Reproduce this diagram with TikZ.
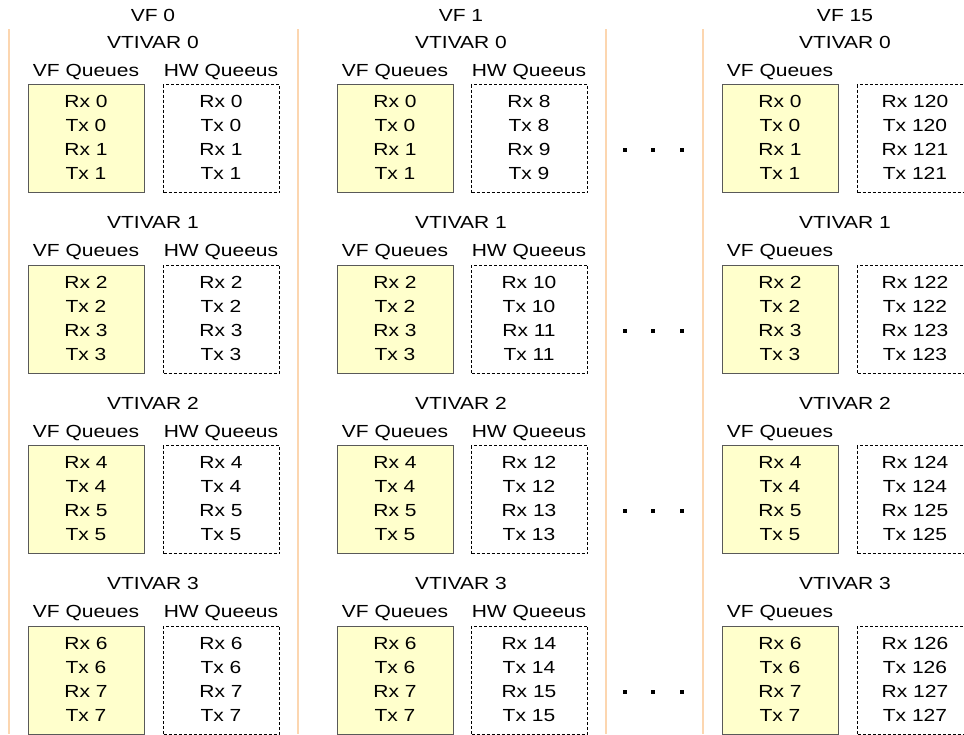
\documentclass[tikz,border=0pt]{standalone}
\usepackage{fontspec}
\setmainfont{Liberation Sans}[FakeStretch=1.2]
\definecolor{yellowfill}{RGB}{255,255,204}
\definecolor{sepcol}{RGB}{252,214,176}
\begin{document}
\begin{tikzpicture}[x=1pt,y=-1pt,
  lbl/.style={inner sep=0pt, anchor=base, font=\fontsize{17.5}{20}\selectfont},
  vfbox/.style={draw=black!65, fill=yellowfill, line width=1pt, minimum width=116pt, minimum height=108pt, inner sep=0pt, anchor=north west},
  hwbox/.style={draw=black, dash pattern=on 3pt off 2pt, line width=1pt, minimum width=116pt, minimum height=108pt, inner sep=0pt, anchor=north west},
  sepline/.style={draw=sepcol, line width=2.5pt},
  qdot/.style={fill=black, minimum size=4pt, inner sep=0pt}]
\useasboundingbox (0,0) rectangle (964,734);
% separator lines
\foreach \i/\x in {0/9,1/298,2/606,3/703} {
  \coordinate (st\i) at (\x,29);
  \coordinate (sb\i) at (\x,734);
  \draw[sepline] (st\i) -- (sb\i);
}
% VF titles
\node[lbl] (vf0) at (153,21) {VF 0};
\node[lbl] (vf1) at (461,21) {VF 1};
\node[lbl] (vf15) at (845,21) {VF 15};
% columns
\foreach \c/\xa/\xb/\xt/\hwbase/\hwl in {0/28/163/153/0/1, 1/337/471/461/8/1, 2/722/857/845/120/0} {
  \foreach \g in {0,...,3} {
    \pgfmathsetmacro\dy{180.5*\g}
    \pgfmathtruncatemacro\qa{2*\g}
    \pgfmathtruncatemacro\qb{2*\g+1}
    \pgfmathtruncatemacro\ha{\hwbase+2*\g}
    \pgfmathtruncatemacro\hb{\hwbase+2*\g+1}
    \node[lbl] (vt\c\g) at (\xt,48+\dy) {VTIVAR \g};
    \node[lbl] (vq\c\g) at (\xa+58,76+\dy) {VF Queues};
    \ifnum\hwl=1 \node[lbl] (hq\c\g) at (\xb+58,76+\dy) {HW Queeus};\fi
    \node[vfbox] (vb\c\g) at (\xa,84+\dy) {};
    \node[hwbox] (hb\c\g) at (\xb,84+\dy) {};
    \node[lbl] (vra\c\g) at (\xa+58,107.5+\dy) {Rx \qa};
    \node[lbl] (vta\c\g) at (\xa+58,131.5+\dy) {Tx \qa};
    \node[lbl] (vrb\c\g) at (\xa+58,155.5+\dy) {Rx \qb};
    \node[lbl] (vtb\c\g) at (\xa+58,179.5+\dy) {Tx \qb};
    \node[lbl] (hra\c\g) at (\xb+58,107.5+\dy) {Rx \ha};
    \node[lbl] (hta\c\g) at (\xb+58,131.5+\dy) {Tx \ha};
    \node[lbl] (hrb\c\g) at (\xb+58,155.5+\dy) {Rx \hb};
    \node[lbl] (htb\c\g) at (\xb+58,179.5+\dy) {Tx \hb};
  }
}
% ellipsis dots
\foreach \g in {0,...,3} {
  \pgfmathsetmacro\dy{180.5*\g}
  \node[qdot] (da\g) at (625,150+\dy) {};
  \node[qdot] (db\g) at (653,150+\dy) {};
  \node[qdot] (dc\g) at (682,150+\dy) {};
}
\end{tikzpicture}
\end{document}
